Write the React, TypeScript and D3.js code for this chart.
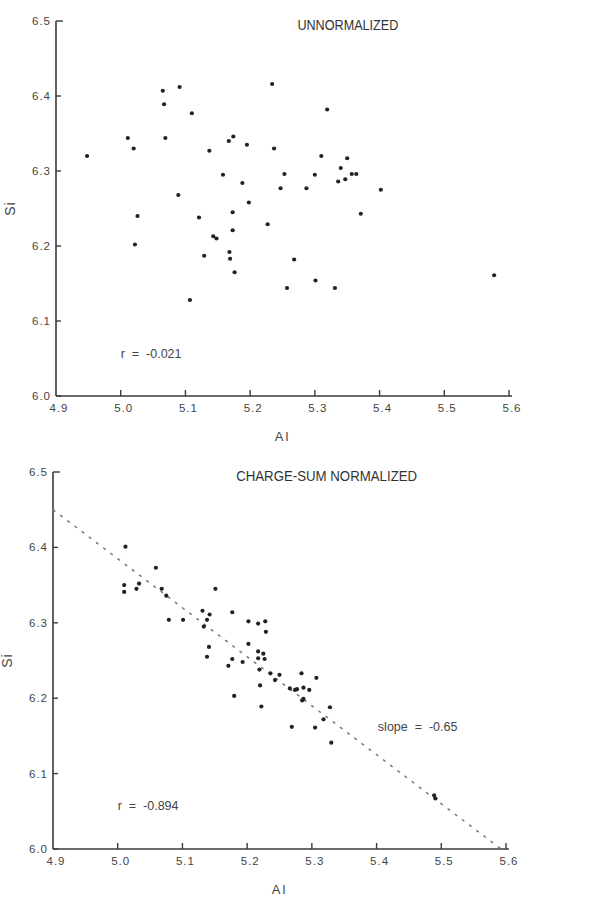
import React from 'react';
import * as d3 from 'd3';

// Al / Si pairs, unnormalized panel
const topAl = [4.948, 5.011, 5.020, 5.065, 5.091, 5.067, 5.069, 5.110, 5.137, 5.167, 5.174, 5.195, 5.158, 5.188, 5.089, 5.198, 5.173, 5.026, 5.121, 5.234, 5.237, 5.319, 5.253, 5.247, 5.287, 5.300, 5.310, 5.340, 5.350, 5.336, 5.347, 5.357, 5.364, 5.402, 5.371, 5.227, 5.022, 5.173, 5.143, 5.148, 5.129, 5.168, 5.169, 5.176, 5.268, 5.257, 5.301, 5.331, 5.107, 5.577];
const topSi = [6.320, 6.344, 6.330, 6.407, 6.412, 6.389, 6.344, 6.377, 6.327, 6.340, 6.346, 6.335, 6.295, 6.284, 6.268, 6.258, 6.245, 6.240, 6.238, 6.416, 6.330, 6.382, 6.296, 6.277, 6.277, 6.295, 6.320, 6.304, 6.317, 6.286, 6.289, 6.296, 6.296, 6.275, 6.243, 6.229, 6.202, 6.221, 6.213, 6.210, 6.187, 6.192, 6.183, 6.165, 6.182, 6.144, 6.154, 6.144, 6.128, 6.161];

// charge-sum normalized panel
const bottomAl = [5.012, 5.010, 5.010, 5.029, 5.033, 5.059, 5.068, 5.075, 5.079, 5.101, 5.151, 5.131, 5.142, 5.138, 5.133, 5.141, 5.138, 5.177, 5.202, 5.217, 5.228, 5.229, 5.202, 5.217, 5.225, 5.217, 5.227, 5.177, 5.193, 5.171, 5.219, 5.236, 5.250, 5.243, 5.284, 5.307, 5.220, 5.266, 5.274, 5.277, 5.287, 5.296, 5.287, 5.285, 5.180, 5.222, 5.269, 5.305, 5.318, 5.328, 5.330, 5.489, 5.491];
const bottomSi = [6.401, 6.350, 6.341, 6.345, 6.352, 6.373, 6.345, 6.336, 6.304, 6.304, 6.345, 6.316, 6.311, 6.304, 6.295, 6.268, 6.255, 6.314, 6.302, 6.299, 6.302, 6.288, 6.272, 6.262, 6.259, 6.253, 6.252, 6.252, 6.248, 6.243, 6.238, 6.233, 6.231, 6.224, 6.233, 6.227, 6.217, 6.213, 6.211, 6.212, 6.214, 6.211, 6.199, 6.197, 6.203, 6.189, 6.162, 6.161, 6.172, 6.188, 6.141, 6.071, 6.067];

const xTicks = [4.9, 5.0, 5.1, 5.2, 5.3, 5.4, 5.5, 5.6];
const yTicks = [6.0, 6.1, 6.2, 6.3, 6.4, 6.5];

// regression line of the normalized panel
const fitSlope = -0.65;
const fitStart = [4.9, 6.45];

const font = 'Liberation Sans, Arial, sans-serif';
const axisColor = '#3a3a3a';
const textColor = '#444';

type PanelProps = {
  al: number[];
  si: number[];
  xRange: [number, number];
  yRange: [number, number];
  title: string;
  titleAt: [number, number];
  titleWidth: number;
  rText: string;
  rAt: [number, number];
  fit?: boolean;
};

const Panel = ({ al, si, xRange, yRange, title, titleAt, titleWidth, rText, rAt, fit }: PanelProps) => {
  const x = d3.scaleLinear().domain([4.9, 5.6]).range(xRange);
  const y = d3.scaleLinear().domain([6.0, 6.5]).range(yRange);
  const x0 = x(4.9);
  const y0 = y(6.0);

  let fitPath = null;
  if (fit) {
    const xEnd = fitStart[0] + (6.0 - fitStart[1]) / fitSlope;
    const line = d3.line<number[]>().x(d => x(d[0])).y(d => y(d[1]));
    fitPath = (
      <path
        d={line([fitStart, [xEnd, 6.0]]) || ''}
        fill="none"
        stroke="#777"
        strokeWidth={1.5}
        strokeDasharray="3,6"
      />
    );
  }

  return (
    <g>
      {/* axes */}
      <line x1={x0} x2={x0} y1={y(6.5)} y2={y0} stroke={axisColor} strokeWidth={1.6} />
      <line x1={x0} x2={x(5.6) + 3} y1={y0} y2={y0} stroke={axisColor} strokeWidth={1.6} />
      {yTicks.map(t => (
        <g key={'y' + t}>
          <line x1={x0} x2={x0 + (t === 6.5 ? 7 : 5)} y1={y(t)} y2={y(t)} stroke={axisColor} strokeWidth={1.4} />
          <text x={x0 - 5} y={y(t) + 4} textAnchor="end" fontSize={11.5} letterSpacing={1} fill={textColor} fontFamily={font}>
            {t.toFixed(1)}
          </text>
        </g>
      ))}
      {xTicks.map(t => (
        <g key={'x' + t}>
          {t > 4.9 && <line x1={x(t)} x2={x(t)} y1={y0} y2={y0 - 6} stroke={axisColor} strokeWidth={1.4} />}
          <text x={x(t) + 3} y={y0 + 16} textAnchor="middle" fontSize={11.5} letterSpacing={1} fill={textColor} fontFamily={font}>
            {t.toFixed(1)}
          </text>
        </g>
      ))}

      {fitPath}

      {al.map((v, i) => (
        <circle key={i} cx={x(v)} cy={y(si[i])} r={2.1} fill="#222" />
      ))}

      <text
        x={x(titleAt[0])}
        y={y(titleAt[1])}
        fontSize={14}
        textLength={titleWidth}
        lengthAdjust="spacingAndGlyphs"
        fill="#333"
        fontFamily={font}
      >
        {title}
      </text>
      <text x={x(rAt[0])} y={y(rAt[1])} fontSize={12.5} fill={textColor} fontFamily={font} style={{ whiteSpace: 'pre' }}>
        {rText}
      </text>
      {fit && (
        <text x={x(5.402)} y={y(6.157)} fontSize={12.5} fill={textColor} fontFamily={font} style={{ whiteSpace: 'pre' }}>
          {'slope  =  -0.65'}
        </text>
      )}

      <text
        transform={`translate(${x0 - 41},${(y(6.5) + y0) / 2}) rotate(-90)`}
        textAnchor="middle"
        fontSize={14}
        letterSpacing={1}
        fill={textColor}
        fontFamily={font}
      >
        Si
      </text>
      <text x={(x(4.9) + x(5.6)) / 2} y={y0 + 45} textAnchor="middle" fontSize={13} letterSpacing={2} fill={textColor} fontFamily={font}>
        Al
      </text>
    </g>
  );
};

export default function App() {
  return (
    <div style={{ position: 'absolute', left: 0, top: 0 }}>
      <svg width={610} height={899} style={{ display: 'block', background: '#fff' }}>
        <Panel
          al={topAl}
          si={topSi}
          xRange={[56, 509]}
          yRange={[396, 21]}
          title="UNNORMALIZED"
          titleAt={[5.273, 6.488]}
          titleWidth={101}
          rText="r  =  -0.021"
          rAt={[5.0, 6.051]}
        />
        <Panel
          al={bottomAl}
          si={bottomSi}
          xRange={[53, 506]}
          yRange={[849, 472]}
          title="CHARGE-SUM NORMALIZED"
          titleAt={[5.183, 6.488]}
          titleWidth={181}
          rText="r  =  -0.894"
          rAt={[5.0, 6.052]}
          fit
        />
      </svg>
    </div>
  );
}
